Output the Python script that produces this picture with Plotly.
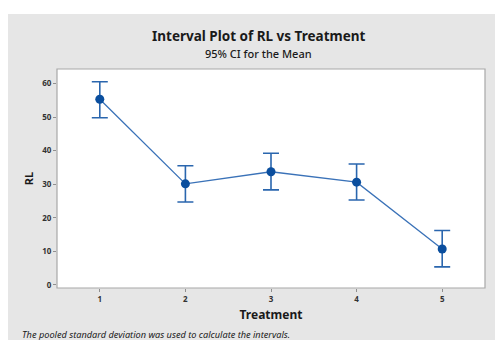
import plotly.graph_objects as go

treatment = [1, 2, 3, 4, 5]
mean_rl = [55.3, 30.1, 33.7, 30.6, 10.7]
ci_lower = [49.8, 24.7, 28.3, 25.3, 5.4]
ci_upper = [60.5, 35.5, 39.2, 36.0, 16.2]
y_ticks = [0, 10, 20, 30, 40, 50, 60]

err_plus = [u - m for u, m in zip(ci_upper, mean_rl)]
err_minus = [m - l for m, l in zip(mean_rl, ci_lower)]

OFF = 8  # page body margin
W, H = 503 - OFF, 340 - OFF
L, R, T, B = 57 - OFF, 18, 69 - OFF, 52
pw, ph = W - L - R, H - T - B

def px(x):
    return (x - OFF - L) / pw

def py(y):
    return (H - B - (y - OFF)) / ph

fig = go.Figure()
fig.add_trace(go.Scatter(
    x=treatment, y=mean_rl, mode="lines+markers",
    line=dict(color="#3A72B8", width=1.3),
    marker=dict(color="#0A4E9E", size=9),
    error_y=dict(type="data", symmetric=False, array=err_plus, arrayminus=err_minus,
                 color="#2A66AE", thickness=1.6, width=8),
    showlegend=False,
))

fig.add_shape(type="rect", xref="paper", yref="paper",
              x0=px(8), x1=px(510), y0=py(14), y1=py(345),
              fillcolor="#E6E6E6", line=dict(width=0), layer="below")
fig.add_shape(type="rect", xref="paper", yref="paper",
              x0=0, x1=1, y0=0, y1=1,
              fillcolor="white", line=dict(color="#A8A8A8", width=1.2), layer="below")

font = "Noto Sans"
fig.add_annotation(text="<b>Interval Plot of RL vs Treatment</b>", xref="paper", yref="paper",
                   x=px(258.5), y=py(36), showarrow=False, xanchor="center", yanchor="middle",
                   font=dict(family=font, size=13.5, color="#1A1A1A"))
fig.add_annotation(text="95% CI for the Mean", xref="paper", yref="paper",
                   x=px(258.5), y=py(53), showarrow=False, xanchor="center", yanchor="middle",
                   font=dict(family=font, size=11, color="#1A1A1A", weight=500))
fig.add_annotation(text="<i>The pooled standard deviation was used to calculate the intervals.</i>",
                   xref="paper", yref="paper", x=px(20), y=py(334), showarrow=False,
                   xanchor="left", yanchor="middle",
                   font=dict(family=font, size=9.2, color="#1A1A1A"))

fig.update_layout(
    width=W, height=H,
    margin=dict(l=L, r=R, t=T, b=B, pad=0),
    paper_bgcolor="white", plot_bgcolor="rgba(0,0,0,0)",
    font=dict(family=font),
)
fig.update_xaxes(range=[0.5, 5.5], tickvals=treatment, ticks="outside", ticklen=3,
                 tickcolor="#909090", showgrid=False, zeroline=False, showline=False,
                 tickfont=dict(size=8, color="#333333", weight="bold"),
                 title=dict(text="<b>Treatment</b>", font=dict(size=12, color="#1A1A1A"), standoff=8))
fig.update_yaxes(range=[-0.9, 64.3], tickvals=y_ticks, ticks="outside", ticklen=3,
                 tickcolor="#909090", showgrid=False, zeroline=False, showline=False,
                 tickfont=dict(size=8, color="#333333", weight="bold"),
                 title=dict(text="<b>RL</b>", font=dict(size=11, color="#1A1A1A"), standoff=6))

fig.write_html("out.html")
